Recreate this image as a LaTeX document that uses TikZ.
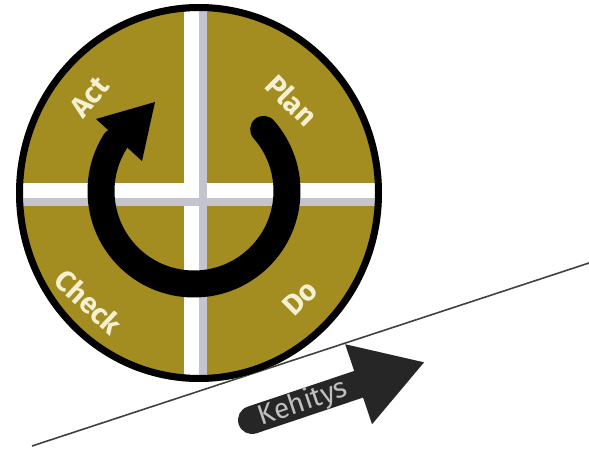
\documentclass[tikz,border=0pt]{standalone}
\usepackage{fontspec}
\setmainfont{Fira Sans}
\usetikzlibrary{arrows.meta, positioning}
\definecolor{pdcagold}{RGB}{163,140,32}
\definecolor{pdcatext}{RGB}{245,240,210}
\definecolor{barshade}{RGB}{196,196,206}
\tikzset{
    phaselabel/.style={text=pdcatext, font=\fontsize{29}{32}\selectfont\bfseries, inner sep=0pt},
    crossbar/.style={line width=22pt, white},
    crossshade/.style={line width=8pt, barshade},
    cyclearrow/.style={line width=27pt, line cap=round},
    trendarrow/.style={line width=28pt, line cap=round, -{Triangle[width=79pt, length=70pt]}, color=black!85},
    trendlabel/.style={text=black!25, font=\fontsize{28}{30}\selectfont, inner sep=0pt},
    timeline/.style={line width=1.6pt, color=black!75}
}

\begin{document}
\begin{tikzpicture}[x=1pt, y=1pt]
    \useasboundingbox (0,0) rectangle (589,448);

    % timeline
    \coordinate (tstart) at (32,2);
    \coordinate (tend) at (589,185);
    \draw [timeline] (tstart) -- (tend);

    % PDCA disc
    \coordinate (disc) at (199,255);
    \fill [black!15, shift={(5,-5)}] (disc) ellipse [x radius=183, y radius=189];
    \fill [pdcagold] (disc) ellipse [x radius=179.5, y radius=185.5];
    \begin{scope}
        \clip (disc) ellipse [x radius=176, y radius=182];
        \draw [crossbar] (195,0) -- (195,448);
        \draw [crossbar] (0,254) -- (400,254);
        \draw [crossshade] (203,0) -- (203,448);
        \draw [crossshade] (0,246) -- (400,246);
    \end{scope}
    \draw [line width=7pt] (disc) ellipse [x radius=179.5, y radius=185.5];

    % cycle arrow
    \coordinate (ring) at (194,257);
    \coordinate (ringtip) at (155,346);
    \coordinate (ringleft) at (96,329);
    \coordinate (ringright) at (142,287);
    \draw [cyclearrow, shift={(ring)}] (41.5:93) arc [start angle=41.5, end angle=-212, radius=93];
    \fill (ringtip) -- (ringleft) -- (ringright) -- cycle;

    \node (act) [phaselabel, rotate=50] at (90,351) {Act};
    \node (plan) [phaselabel, rotate=-45] at (292,348) {Plan};
    \node (check) [phaselabel, rotate=-43] at (89,146) {Check};
    \node (do) [phaselabel, rotate=45] at (300,150) {Do};

    % development arrow
    \coordinate (ktail) at (252,28);
    \coordinate (ktip) at (425,86);
    \draw [trendarrow, black!12, shift={(3,-6)}] (ktail) -- (ktip);
    \draw [trendarrow] (ktail) -- (ktip);
    \node (kehitys) [trendlabel, rotate=18.6] at (303,45) {Kehitys};
\end{tikzpicture}
\end{document}
